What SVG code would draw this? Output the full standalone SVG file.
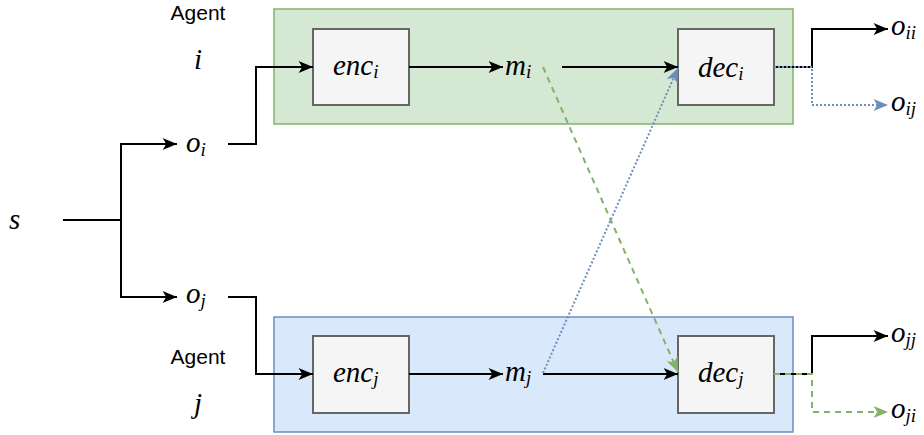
<svg xmlns="http://www.w3.org/2000/svg" width="924" height="435" viewBox="0 0 924 435">
<style>
.m{font-family:"Liberation Serif","DejaVu Serif",serif;font-style:italic;font-size:29px;fill:#000}
.sub{font-size:19px}
.lbl{font-family:"Liberation Sans",Arial,sans-serif;font-size:21px;fill:#000;text-anchor:middle}
.box{fill:#f5f5f5;stroke:#666;stroke-width:2}
.e{fill:none;stroke:#000;stroke-width:2}
.blue{fill:none;stroke:#6c8ebf;stroke-width:2;stroke-dasharray:2 2}
.green{fill:none;stroke:#82b366;stroke-width:2;stroke-dasharray:6 5}
</style>
<defs>
<marker id="ab" viewBox="0 0 12 10" refX="12" refY="5" markerWidth="15" markerHeight="12" markerUnits="userSpaceOnUse" orient="auto"><path d="M0,0 L12,5 L0,10 L3,5 z" fill="#000"/></marker>
<marker id="abl" viewBox="0 0 12 10" refX="12" refY="5" markerWidth="15" markerHeight="12" markerUnits="userSpaceOnUse" orient="auto"><path d="M0,0 L12,5 L0,10 L3,5 z" fill="#6c8ebf"/></marker>
<marker id="agr" viewBox="0 0 12 10" refX="12" refY="5" markerWidth="15" markerHeight="12" markerUnits="userSpaceOnUse" orient="auto"><path d="M0,0 L12,5 L0,10 L3,5 z" fill="#82b366"/></marker>
</defs>
<g id="agent-i-group"><rect x="274" y="9" width="519" height="115" fill="#d5e8d4" stroke="#82b366" stroke-width="1.5"/></g>
<g id="agent-j-group"><rect x="274" y="317" width="519" height="115" fill="#dae8fc" stroke="#6c8ebf" stroke-width="1.5"/></g>
<g id="label-agent-i"><text class="lbl" x="198" y="20">Agent</text><text class="m" x="198" y="69" text-anchor="middle">i</text></g>
<g id="label-agent-j"><text class="lbl" x="198" y="364">Agent</text><text class="m" x="198" y="413" text-anchor="middle">j</text></g>
<g id="s"><text class="m" x="9" y="229">s</text></g>
<g id="o_i"><text class="m" x="186" y="152">o<tspan class="sub" dy="4">i</tspan></text></g>
<g id="o_j"><text class="m" x="186" y="303">o<tspan class="sub" dy="4">j</tspan></text></g>
<g id="enc_i"><rect class="box" x="313" y="29" width="96" height="76"/><text class="m" x="333" y="75">enc<tspan class="sub" dy="3">i</tspan></text></g>
<g id="enc_j"><rect class="box" x="313" y="336" width="96" height="77"/><text class="m" x="333" y="382">enc<tspan class="sub" dy="3">j</tspan></text></g>
<g id="m_i"><text class="m" x="505" y="75">m<tspan class="sub" dy="3">i</tspan></text></g>
<g id="m_j"><text class="m" x="505" y="381">m<tspan class="sub" dy="3">j</tspan></text></g>
<g id="dec_i"><rect class="box" x="678" y="29" width="96" height="76"/><text class="m" x="698" y="77">dec<tspan class="sub" dy="3">i</tspan></text></g>
<g id="dec_j"><rect class="box" x="678" y="336" width="96" height="77"/><text class="m" x="698" y="382">dec<tspan class="sub" dy="3">j</tspan></text></g>
<g id="o_ii"><text class="m" x="891" y="35">o<tspan class="sub" dy="4">ii</tspan></text></g>
<g id="o_ij"><text class="m" x="891" y="111">o<tspan class="sub" dy="4">ij</tspan></text></g>
<g id="o_jj"><text class="m" x="891" y="342">o<tspan class="sub" dy="4">jj</tspan></text></g>
<g id="o_ji"><text class="m" x="891" y="418">o<tspan class="sub" dy="4">ji</tspan></text></g>
<g id="connectors">
<path class="e" d="M63,220 H121 V144 H177" marker-end="url(#ab)"/>
<path class="e" d="M121,220 V297 H177" marker-end="url(#ab)"/>
<path class="e" d="M228,144 H256 V67 H313" marker-end="url(#ab)"/>
<path class="e" d="M228,297 H256 V374 H313" marker-end="url(#ab)"/>
<path class="e" d="M409,67 H503" marker-end="url(#ab)"/>
<path class="e" d="M409,374 H503" marker-end="url(#ab)"/>
<path class="e" d="M562,67 H678" marker-end="url(#ab)"/>
<path class="e" d="M543,374 H678" marker-end="url(#ab)"/>
<path class="e" d="M774,67 H812 V29 H888" marker-end="url(#ab)"/>
<path class="e" d="M774,374 H812 V336 H888" marker-end="url(#ab)"/>
<path class="blue" d="M774,67 H812 V105 H888" marker-end="url(#abl)"/>
<path class="green" d="M774,374 H812 V412 H888" marker-end="url(#agr)"/>
<path class="green" d="M543,67 L678,372" marker-end="url(#agr)"/>
<path class="blue" d="M543,373 L678,68" marker-end="url(#abl)"/>
</g>
</svg>
